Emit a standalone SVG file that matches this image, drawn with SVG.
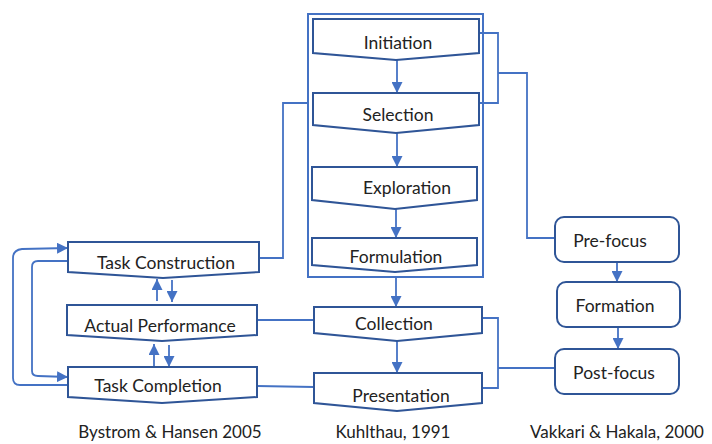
<svg xmlns="http://www.w3.org/2000/svg" width="712" height="444" viewBox="0 0 712 444">
<style>
.n{fill:#fff;stroke:#2f5597;stroke-width:2}
.r{fill:#fff;stroke:#2f5597;stroke-width:2}
.c{fill:none;stroke:#4472c4;stroke-width:1.8}
.t{font-family:Lato,"Open Sans",sans-serif;font-size:17.5px;fill:#222;text-anchor:middle;dominant-baseline:central}
.cap{font-family:Lato,"Open Sans",sans-serif;font-size:17px;fill:#222;text-anchor:middle}
</style>
<defs>
<marker id="ah" viewBox="0 0 10 10" refX="10" refY="5" markerWidth="11" markerHeight="11" markerUnits="userSpaceOnUse" orient="auto">
<path d="M0,0 L10,5 L0,10 Z" fill="#4472c4"/>
</marker>
</defs>
<rect x="308" y="14" width="175" height="263" fill="none" stroke="#4472c4" stroke-width="2"/>
<g id="connectors">
<line class="c" x1="397" y1="60" x2="397" y2="93" marker-end="url(#ah)"/>
<line class="c" x1="397" y1="133" x2="397" y2="167" marker-end="url(#ah)"/>
<line class="c" x1="396" y1="209" x2="396" y2="238" marker-end="url(#ah)"/>
<line class="c" x1="396" y1="277" x2="396" y2="307" marker-end="url(#ah)"/>
<line class="c" x1="397" y1="341" x2="397" y2="373" marker-end="url(#ah)"/>
<polyline class="c" points="479,33 498,33 498,103 479,103"/>
<polyline class="c" points="498,73 527,73 527,238 555,238"/>
<polyline class="c" points="482,318 498,318 498,388 482,388"/>
<line class="c" x1="498" y1="368" x2="555" y2="368"/>
<line class="c" x1="617" y1="262" x2="617" y2="282" marker-end="url(#ah)"/>
<line class="c" x1="618" y1="327" x2="618" y2="349" marker-end="url(#ah)"/>
<polyline class="c" points="259,258 283,258 283,103 308,103"/>
<line class="c" x1="257" y1="320" x2="314" y2="320"/>
<line class="c" x1="257" y1="386" x2="314" y2="387"/>
<line class="c" x1="157" y1="301" x2="157" y2="279" marker-end="url(#ah)"/>
<line class="c" x1="172" y1="280" x2="172" y2="302" marker-end="url(#ah)"/>
<line class="c" x1="154" y1="366" x2="154" y2="344" marker-end="url(#ah)"/>
<line class="c" x1="169" y1="345" x2="169" y2="367" marker-end="url(#ah)"/>
<path class="c" d="M68,385 L20,385 Q13,385 13,378 L13,258 Q13,250 22,249 L68,248" marker-end="url(#ah)"/>
<path class="c" d="M68,261 L38,261 Q32,261 32,267 L32,371 Q32,376 38,376 L68,377" marker-end="url(#ah)"/>
</g>
<g id="initiation"><path class="n" d="M313,19 H479 V53 L396,60 L313,53 Z"/><text class="t" x="398" y="42">Initiation</text></g>
<g id="selection"><path class="n" d="M313,93 H479 V125 L396,133 L313,125 Z"/><text class="t" x="398" y="114">Selection</text></g>
<g id="exploration"><path class="n" d="M312,167 H477 V200 L395,209 L312,200 Z"/><text class="t" x="407" y="187">Exploration</text></g>
<g id="formulation"><path class="n" d="M312,238 H477 V265 L395,272 L312,265 Z"/><text class="t" x="396" y="256">Formulation</text></g>
<g id="collection"><path class="n" d="M314,307 H482 V333 L397,341 L314,333 Z"/><text class="t" x="394" y="323">Collection</text></g>
<g id="presentation"><path class="n" d="M314,373 H482 V403 L397,411 L314,403 Z"/><text class="t" x="401" y="395">Presentation</text></g>
<g id="task-construction"><path class="n" d="M68,242 H259 V272 L163,278 L68,272 Z"/><text class="t" x="166" y="262">Task Construction</text></g>
<g id="actual-performance"><path class="n" d="M67,305 H257 V335 L162,341 L67,335 Z"/><text class="t" x="160" y="325">Actual Performance</text></g>
<g id="task-completion"><path class="n" d="M68,367 H257 V397 L162,403 L68,397 Z"/><text class="t" x="158" y="385">Task Completion</text></g>
<g id="pre-focus"><rect class="r" x="555" y="217" width="124" height="45" rx="9"/><text class="t" x="610" y="240">Pre-focus</text></g>
<g id="formation"><rect class="r" x="557" y="282" width="123" height="45" rx="9"/><text class="t" x="615" y="305">Formation</text></g>
<g id="post-focus"><rect class="r" x="555" y="349" width="124" height="45" rx="9"/><text class="t" x="614" y="372">Post-focus</text></g>
<text class="cap" x="170" y="438">Bystrom &amp; Hansen 2005</text>
<text class="cap" x="393" y="438">Kuhlthau, 1991</text>
<text class="cap" x="617" y="438">Vakkari &amp; Hakala, 2000</text>
</svg>
